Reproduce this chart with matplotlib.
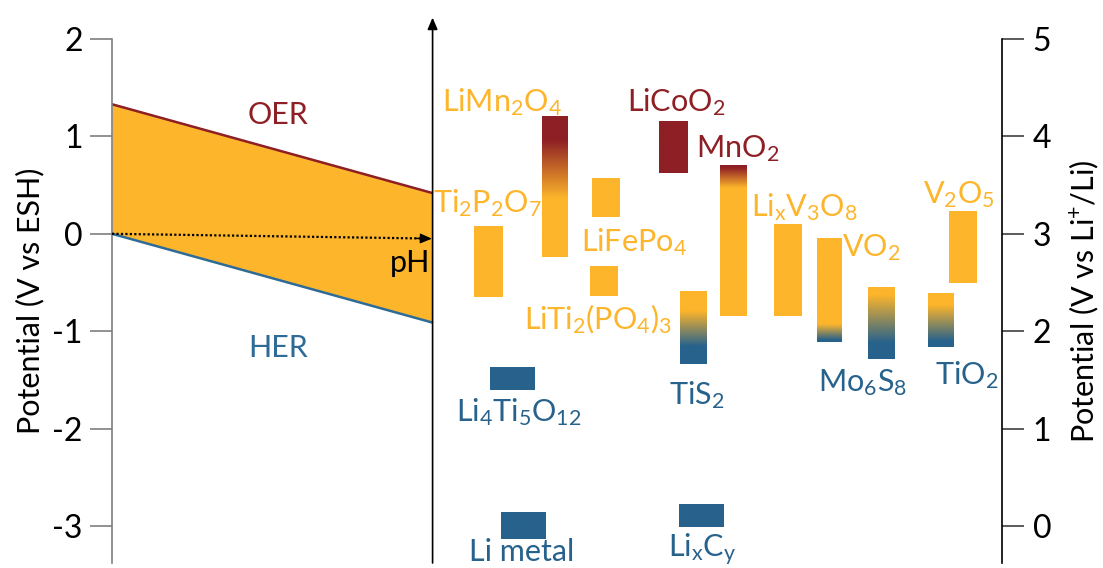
"""
electrode potential window chart (V vs SHE / V vs Li+/Li)
"""

import numpy as np
import matplotlib
matplotlib.use("Agg")
import matplotlib.pyplot as plt
from matplotlib.colors import to_rgb

plt.rcParams["font.family"] = ["Lato", "DejaVu Sans"]
plt.rcParams["mathtext.fontset"] = "custom"
plt.rcParams["mathtext.rm"] = "Lato"
plt.rcParams["mathtext.it"] = "Lato:italic"

ORANGE = "#FDB52B"
RED = "#8E1F25"
BLUE = "#27628C"

# water stability window vs pH (V vs SHE)
ph = [0, 14]
oer = [1.33, 0.42]
her = [0.0, -0.91]

# electrode materials: potential range, V vs SHE
materials = ["Ti2P2O7", "LiMn2O4", "LiFePO4", "LiTi2(PO4)3", "LiCoO2", "TiS2",
             "MnO2", "Li4Ti5O12", "Li metal", "LixCy", "LixV3O8", "VO2",
             "Mo6S8", "TiO2", "V2O5"]
v_top = [0.07, 1.20, 0.57, -0.34, 1.15, -0.60, 0.71, -1.37, -2.86, -2.78,
         0.10, -0.05, -0.555, -0.61, 0.22]
v_bot = [-0.65, -0.24, 0.17, -0.64, 0.62, -1.34, -0.84, -1.60, -3.13, -3.01,
         -0.84, -1.11, -1.285, -1.16, -0.51]

# colour stops (potential, colour) for each bar, top to bottom
fills = {
    "Ti2P2O7": [(0, ORANGE)],
    "LiMn2O4": [(1.20, RED), (0.96, RED), (0.36, ORANGE)],
    "LiFePO4": [(0, ORANGE)],
    "LiTi2(PO4)3": [(0, ORANGE)],
    "LiCoO2": [(0, RED)],
    "TiS2": [(-0.80, ORANGE), (-1.16, BLUE)],
    "MnO2": [(0.69, RED), (0.48, ORANGE)],
    "Li4Ti5O12": [(0, BLUE)],
    "Li metal": [(0, BLUE)],
    "LixCy": [(0, BLUE)],
    "LixV3O8": [(0, ORANGE)],
    "VO2": [(-0.93, ORANGE), (-1.09, BLUE)],
    "Mo6S8": [(-0.63, ORANGE), (-1.12, BLUE)],
    "TiO2": [(-0.73, ORANGE), (-1.10, BLUE)],
    "V2O5": [(0, ORANGE)],
}

# horizontal placement of bars (left, right), in axis units
x_left = [15.84, 18.81, 21.01, 20.94, 23.94, 24.85, 26.63, 16.55, 17.02,
          24.82, 28.96, 30.84, 33.09, 35.73, 36.61]
x_right = [17.09, 19.94, 22.23, 22.14, 25.19, 25.99, 27.77, 18.48, 18.96,
           26.78, 30.16, 31.92, 34.26, 36.84, 37.80]

# labels: text, x, y, colour
labels = [
    (r"$\mathregular{LiMn_2O_4}$", 17.06, 1.35, ORANGE),
    (r"$\mathregular{Ti_2P_2O_7}$", 16.41, 0.32, ORANGE),
    (r"$\mathregular{LiFePo_4}$", 22.84, -0.09, ORANGE),
    (r"$\mathregular{LiCoO_2}$", 24.68, 1.35, RED),
    (r"$\mathregular{MnO_2}$", 27.39, 0.87, RED),
    (r"$\mathregular{LiTi_2(PO_4)_3}$", 21.26, -0.88, ORANGE),
    (r"$\mathregular{TiS_2}$", 25.59, -1.66, BLUE),
    (r"$\mathregular{Li_4Ti_5O_{12}}$", 17.81, -1.83, BLUE),
    ("Li metal", 17.94, -3.27, BLUE),
    (r"$\mathregular{Li_xC_y}$", 25.81, -3.25, BLUE),
    (r"$\mathregular{Li_xV_3O_8}$", 30.32, 0.27, ORANGE),
    (r"$\mathregular{VO_2}$", 33.25, -0.14, ORANGE),
    (r"$\mathregular{V_2O_5}$", 37.06, 0.40, ORANGE),
    (r"$\mathregular{Mo_6S_8}$", 32.86, -1.53, BLUE),
    (r"$\mathregular{TiO_2}$", 37.41, -1.45, BLUE),
]


def bar_image(top, bot, stops, n=200):
    """vertical colour gradient for one bar, row 0 = top"""
    y = np.linspace(top, bot, n)
    if len(stops) == 1:
        c = np.array(to_rgb(stops[0][1]))
        return np.tile(c, (n, 1, 1))
    sv = np.array([s[0] for s in stops])[::-1]
    cols = np.array([to_rgb(s[1]) for s in stops])[::-1]
    img = np.zeros((n, 1, 3))
    for k in range(3):
        img[:, 0, k] = np.interp(y, sv, cols[:, k])
    return img


YMIN, YMAX = -3.38, 2.0
XMAX = 38.95
FS = 22

fig = plt.figure(figsize=(11.03, 5.68), dpi=100)
ax = fig.add_axes([112 / 1103, 1 - 563 / 568, 890 / 1103, 524 / 568])

# water window
ax.fill_between(ph, her, oer, color=ORANGE, lw=0, zorder=1)
ax.plot(ph, oer, color=RED, lw=1.8, zorder=2)
ax.plot(ph, her, color="#2E6B96", lw=1.8, zorder=2)
ax.text(7.26, 1.22, "OER", color=RED, fontsize=FS, ha="center", va="center")
ax.text(7.26, -1.17, "HER", color="#2E6B96", fontsize=FS, ha="center", va="center")

# pH arrow
ax.plot([0, 13.6], [0, -0.048], color="black", lw=1.6, ls=(0, (1, 1)), zorder=3)
ax.annotate("", xy=(14.0, -0.05), xytext=(13.3, -0.047),
            arrowprops=dict(arrowstyle="-|>,head_length=0.7,head_width=0.3",
                            color="black", lw=1, shrinkA=0, shrinkB=0), zorder=3)
ax.text(13.04, -0.30, "pH", color="black", fontsize=FS, ha="center", va="center")

# middle vertical axis with arrow
ax.annotate("", xy=(14.03, 2.22), xytext=(14.03, YMIN),
            arrowprops=dict(arrowstyle="-|>,head_length=0.7,head_width=0.3",
                            color="black", lw=1.2, shrinkA=0, shrinkB=0),
            annotation_clip=False, zorder=4)

# material bars
for name, t, b, x0, x1 in zip(materials, v_top, v_bot, x_left, x_right):
    img = bar_image(t, b, fills[name])
    ax.imshow(img, extent=[x0, x1, b, t], aspect="auto", origin="upper",
              interpolation="bilinear", zorder=2)

for txt, x, y, c in labels:
    ax.text(x, y, txt, color=c, fontsize=FS, ha="center", va="center")

ax.set_xlim(0, XMAX)
ax.set_ylim(YMIN, YMAX)
ax.set_xticks([])
for s in ["top", "bottom", "right"]:
    ax.spines[s].set_visible(False)
ax.spines["left"].set_color("#7F7F7F")
ax.spines["left"].set_linewidth(1.2)
ax.set_yticks([2, 1, 0, -1, -2, -3])
ax.set_yticklabels(["2", "1", "0", "-1", "-2", "-3"])
ax.tick_params(axis="y", length=16, width=1.2, color="#7F7F7F", pad=5, labelsize=23)
ax.set_ylabel("Potential (V vs ESH)", fontsize=FS, rotation=90, va="center")
ax.yaxis.set_label_coords(-0.092, 0.5)

# right axis, V vs Li+/Li
ax2 = ax.twinx()
ax2.set_ylim(YMIN + 3, YMAX + 3)
for s in ["top", "bottom", "left"]:
    ax2.spines[s].set_visible(False)
ax2.spines["right"].set_linewidth(1.2)
ax2.set_yticks([0, 1, 2, 3, 4, 5])
ax2.tick_params(axis="y", length=16, width=1.2, color="#404040", pad=6, labelsize=23)
ax2.set_ylabel(r"Potential (V vs Li$\mathregular{^{+}}$/Li)", fontsize=FS,
               rotation=90, va="center")
ax2.yaxis.set_label_coords(1.093, 0.5)

fig.savefig("out.png", dpi=100)
